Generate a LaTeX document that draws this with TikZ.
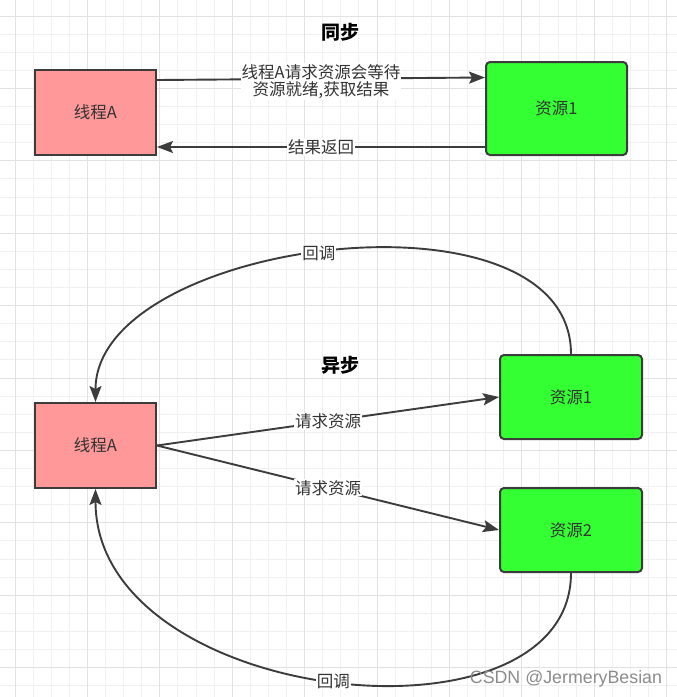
\documentclass[tikz,border=0pt]{standalone}
\usepackage{fontspec}
\setmainfont{Noto Sans CJK SC}
\newfontfamily\markfont{Liberation Sans}
\usetikzlibrary{positioning,arrows.meta}
\definecolor{pinkfill}{HTML}{FF9999}
\definecolor{greenfill}{HTML}{33FF33}
\definecolor{edgegray}{HTML}{3C3C3C}
\definecolor{textgray}{HTML}{333333}
\definecolor{gridminor}{HTML}{F0F0F0}
\definecolor{gridmajor}{HTML}{E2E2E2}

\begin{document}
\begin{tikzpicture}[x=1pt,y=-1pt]

    \tikzstyle{thread}=[draw=edgegray, fill=pinkfill, line width=2pt, rectangle, minimum width=121pt, minimum height=85pt, text=textgray, font=\fontsize{16.5}{19}\selectfont];
    \tikzstyle{res}=[draw=edgegray, fill=greenfill, line width=2pt, rectangle, rounded corners=4pt, minimum width=142pt, minimum height=84pt, text=textgray, font=\fontsize{16.5}{19}\selectfont];
    \tikzstyle{title}=[text=black, font=\fontsize{19}{21}\selectfont\bfseries];
    \tikzstyle{lbl}=[fill=white, text=textgray, inner sep=1pt, font=\fontsize{16.5}{17.5}\selectfont];
    \tikzstyle{link}=[draw=edgegray, line width=1.9pt];

    \useasboundingbox (0,0) rectangle (677,697);
    \fill[white] (0,0) rectangle (677,697);
    \foreach \k in {0,...,37} {
      \draw[gridminor, line width=0.9pt] (15+18.1*\k,0) -- (15+18.1*\k,697);
      \draw[gridminor, line width=0.9pt] (0,16+18.1*\k) -- (677,16+18.1*\k);
    }
    \foreach \k in {0,4,...,36} {
      \draw[gridmajor, line width=1pt] (15+18.1*\k,0) -- (15+18.1*\k,697);
      \draw[gridmajor, line width=1pt] (0,16+18.1*\k) -- (677,16+18.1*\k);
    }

    \begin{scope}[>={Stealth[length=16pt,width=12pt,inset=3pt]}]
      \node (syncTitle) at (340,32) [title]{同步};
      \node (syncThread) at (95.5,112) [thread]{线程A};
      \node (syncRes) at (556.5,108.5) [res, minimum width=141pt, minimum height=93pt]{资源1};

      \draw[link, ->] ([yshift=32pt]syncThread.east) -- node[lbl, align=center, yshift=-3pt]{线程A请求资源会等待\\资源就绪,获取结果} ([yshift=31pt]syncRes.west);
      \draw[link, ->] ([yshift=-38.5pt]syncRes.west) -- node[lbl]{结果返回} ([yshift=-35pt]syncThread.east);

      \node (asyncTitle) at (340,365) [title]{异步};
      \node (asyncThread) at (95.5,445.5) [thread]{线程A};
      \node (asyncRes1) at (571,397) [res]{资源1};
      \node (asyncRes2) [below=47pt of asyncRes1, res]{资源2};

      \draw[link, ->] (asyncThread.east) -- node[lbl]{请求资源} (asyncRes1.west);
      \draw[link, ->] (asyncThread.east) -- node[lbl]{请求资源} (asyncRes2.west);
      \draw[link, ->] (asyncRes1.north) .. controls +(0,-175) and +(0,-163) .. node[lbl, pos=0.52]{回调} (asyncThread.north);
      \draw[link, ->] (asyncRes2.south) .. controls +(0,183) and +(0,217) .. node[lbl, pos=0.5]{回调} (asyncThread.south);
    \end{scope}

    \node (mark) at (566,679) [text=black!45, font=\markfont\fontsize{17.8}{18}\selectfont]{CSDN @JermeryBesian};
\end{tikzpicture}
\end{document}
